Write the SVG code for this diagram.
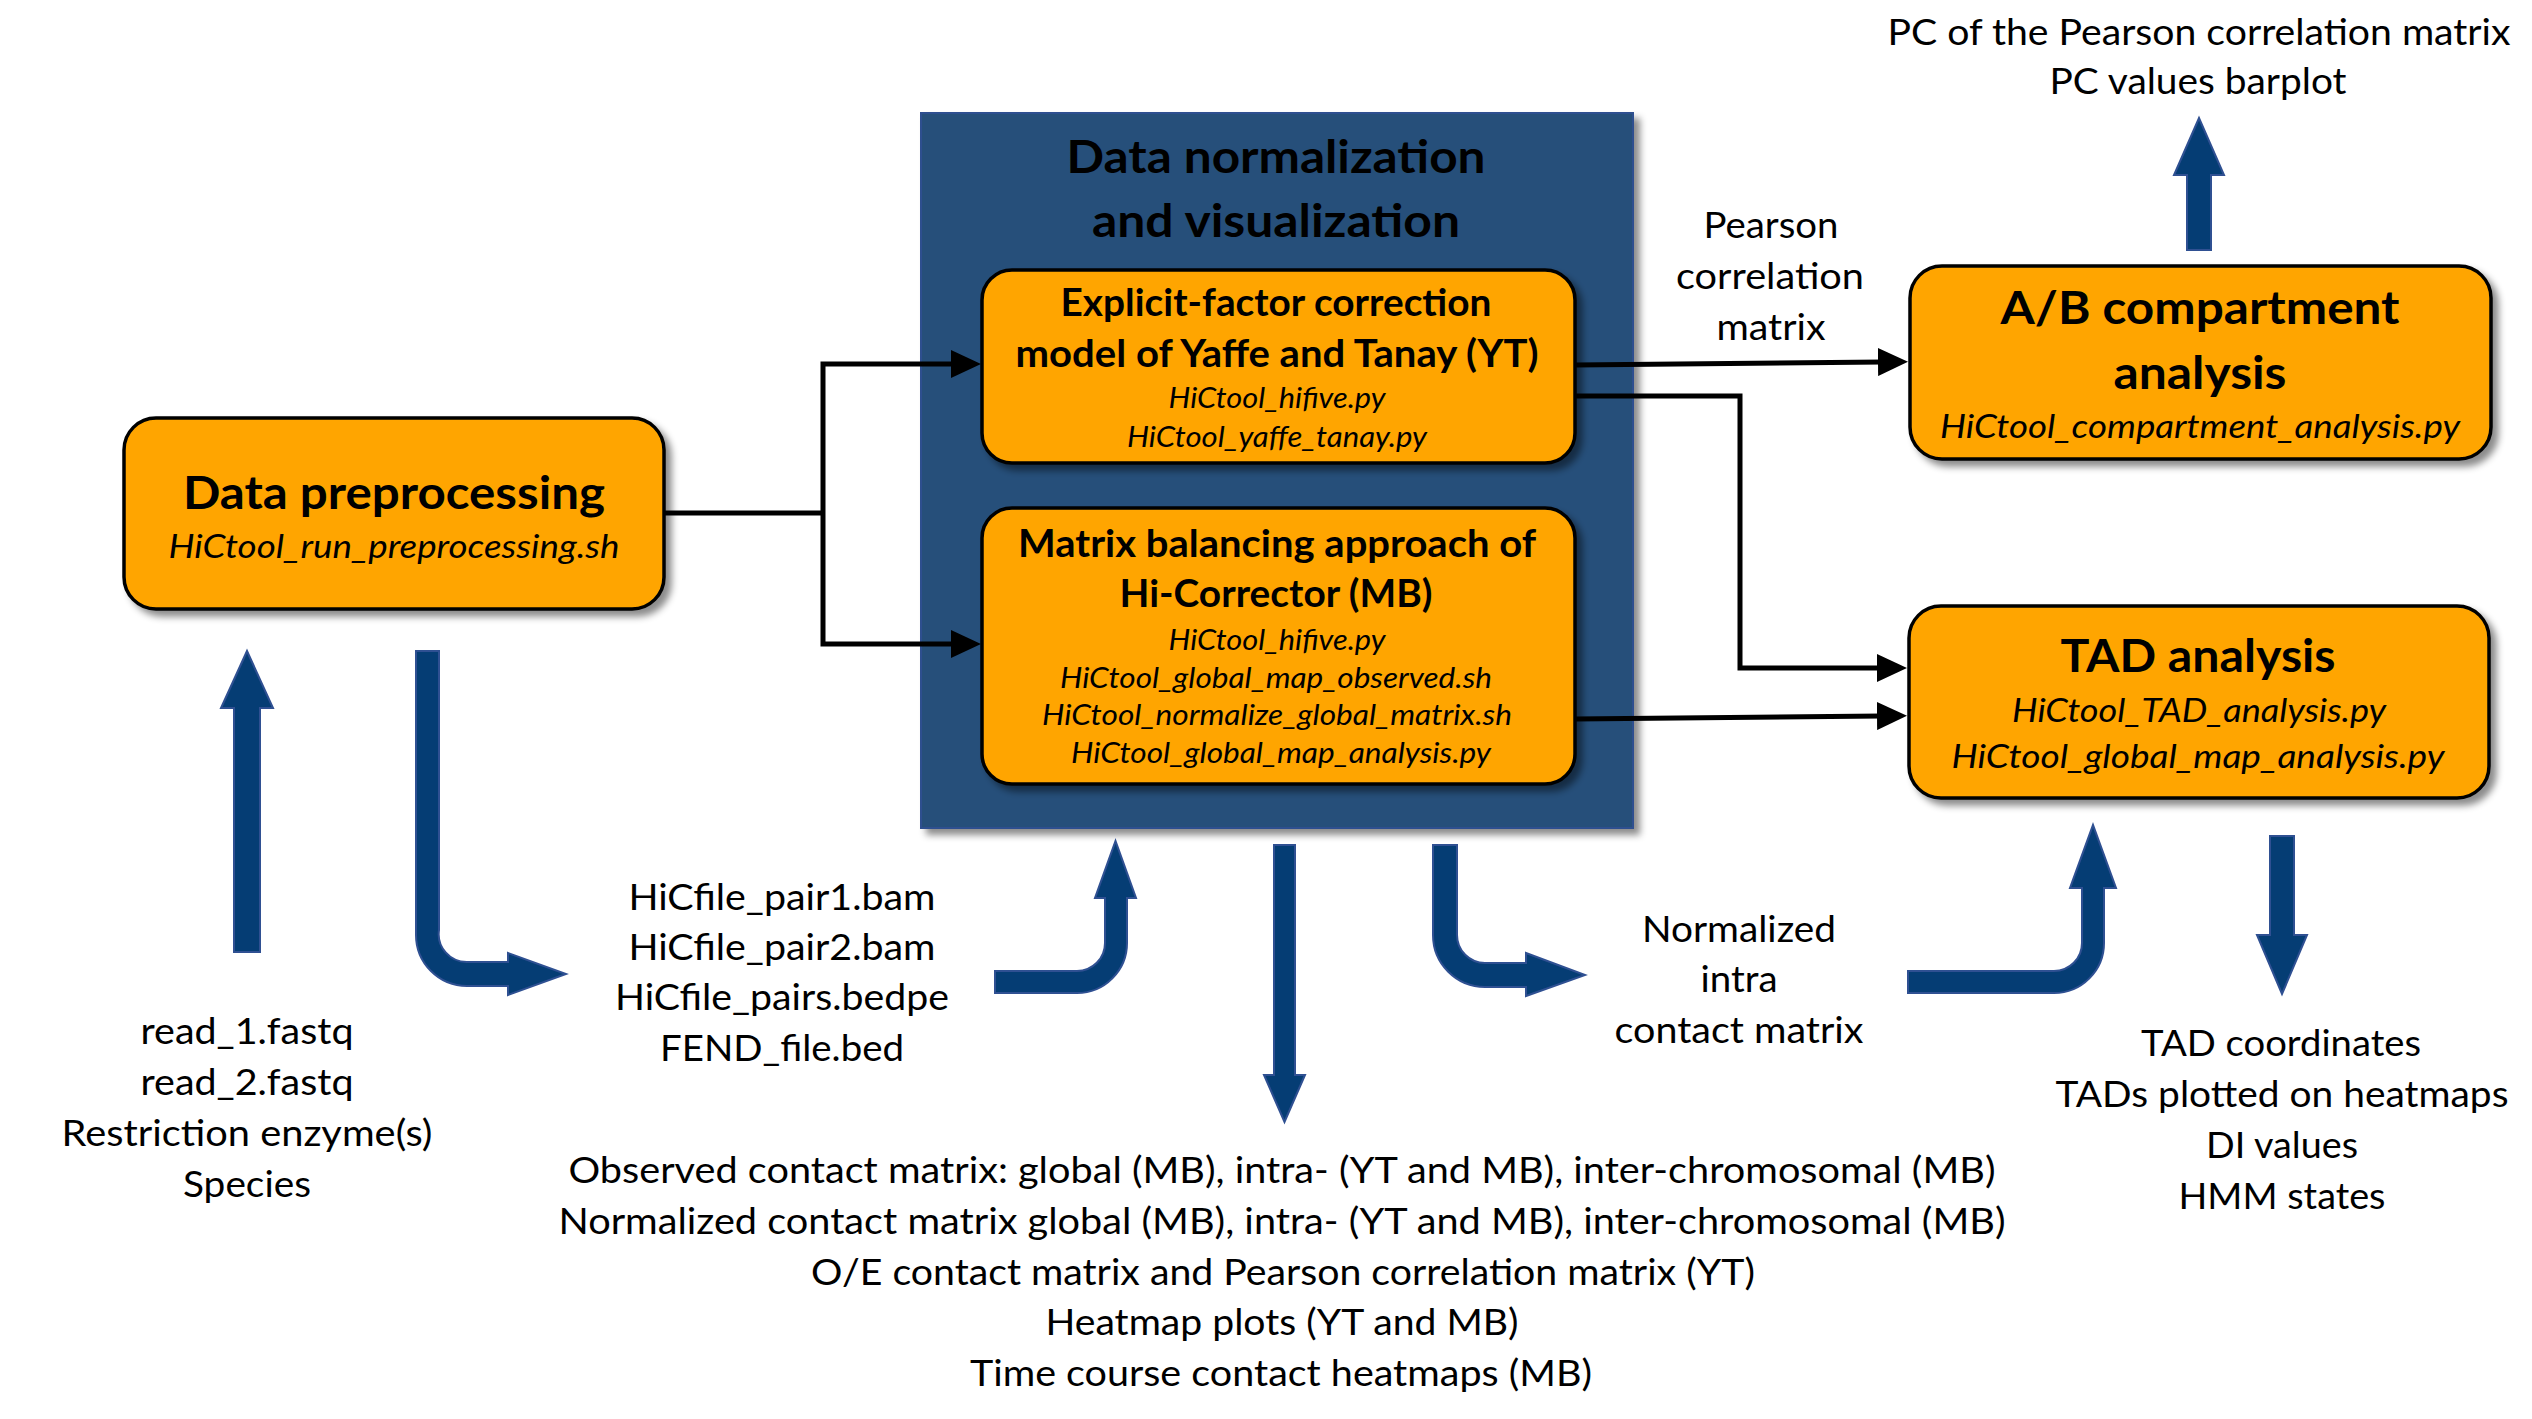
<svg xmlns="http://www.w3.org/2000/svg" width="2532" height="1419" viewBox="0 0 2532 1419">
<style>
.t{font-family:Lato,"Liberation Sans",sans-serif;fill:#000;text-anchor:middle}
.r{font-size:37px}
.b{font-weight:bold}
.i{font-style:italic}
.h1{font-size:46px;font-weight:bold}
.h2{font-size:45px;font-weight:bold}
.h3{font-size:38px;font-weight:bold}
.s1{font-size:28px;font-style:italic}
.s2{font-size:33px;font-style:italic}
.box{fill:#FFA500;stroke:#000;stroke-width:3.5;filter:url(#sh)}
.cont{fill:#25507A;stroke:#2F4F8F;stroke-width:2;filter:url(#sh)}
.conn{fill:none;stroke:#000;stroke-width:5}
.ba{fill:#053D74;stroke:#2F5092;stroke-width:2}
</style>
<defs>
<filter id="sh" x="-10%" y="-10%" width="125%" height="130%">
<feDropShadow dx="6" dy="6" stdDeviation="3.5" flood-color="#000" flood-opacity="0.45"/>
</filter>
<marker id="ah" viewBox="0 0 30 28" refX="5" refY="14" markerUnits="userSpaceOnUse" markerWidth="30" markerHeight="28" orient="auto">
<path d="M0,0 L30,14 L0,28 Z" fill="#000"/>
</marker>
</defs>
<rect width="2532" height="1419" fill="#fff"/>

<g id="container">
<rect class="cont" x="921" y="113" width="712" height="715"/>
<text class="t h1" x="1276" y="173" textLength="419" lengthAdjust="spacingAndGlyphs">Data normalization</text>
<text class="t h1" x="1276" y="237" textLength="368" lengthAdjust="spacingAndGlyphs">and visualization</text>
</g>

<g id="connectors">
<path class="conn" d="M662,513 H823"/>
<path class="conn" d="M823,511 V364 H956" marker-end="url(#ah)"/>
<path class="conn" d="M823,511 V644 H956" marker-end="url(#ah)"/>
<path class="conn" d="M1575,365 L1883,362" marker-end="url(#ah)"/>
<path class="conn" d="M1575,396 H1740 V668 H1882" marker-end="url(#ah)"/>
<path class="conn" d="M1575,719 L1882,716" marker-end="url(#ah)"/>
</g>

<g id="preprocessing">
<rect class="box" x="124" y="418" width="540" height="191" rx="32"/>
<text class="t h2" x="394" y="509" textLength="422" lengthAdjust="spacingAndGlyphs">Data preprocessing</text>
<text class="t s2" x="394" y="558" textLength="451" lengthAdjust="spacingAndGlyphs">HiCtool_run_preprocessing.sh</text>
</g>

<g id="yt">
<rect class="box" x="982" y="270" width="593" height="193" rx="30"/>
<text class="t h3" x="1276" y="316" textLength="431" lengthAdjust="spacingAndGlyphs">Explicit-factor correction</text>
<text class="t h3" x="1277" y="367" textLength="523" lengthAdjust="spacingAndGlyphs">model of Yaffe and Tanay (YT)</text>
<text class="t s1" x="1277" y="408" textLength="217" lengthAdjust="spacingAndGlyphs">HiCtool_hifive.py</text>
<text class="t s1" x="1277" y="447" textLength="300" lengthAdjust="spacingAndGlyphs">HiCtool_yaffe_tanay.py</text>
</g>

<g id="mb">
<rect class="box" x="982" y="508" width="593" height="276" rx="30"/>
<text class="t h3" x="1277" y="557" textLength="518" lengthAdjust="spacingAndGlyphs">Matrix balancing approach of</text>
<text class="t h3" x="1276" y="607" textLength="313" lengthAdjust="spacingAndGlyphs">Hi-Corrector (MB)</text>
<text class="t s1" x="1277" y="650" textLength="217" lengthAdjust="spacingAndGlyphs">HiCtool_hifive.py</text>
<text class="t s1" x="1276" y="688" textLength="432" lengthAdjust="spacingAndGlyphs">HiCtool_global_map_observed.sh</text>
<text class="t s1" x="1277" y="725" textLength="470" lengthAdjust="spacingAndGlyphs">HiCtool_normalize_global_matrix.sh</text>
<text class="t s1" x="1281" y="763" textLength="420" lengthAdjust="spacingAndGlyphs">HiCtool_global_map_analysis.py</text>
</g>

<g id="ab">
<rect class="box" x="1910" y="266" width="581" height="193" rx="32"/>
<text class="t h2" x="2200" y="324" textLength="399" lengthAdjust="spacingAndGlyphs">A/B compartment</text>
<text class="t h2" x="2200" y="389" textLength="173" lengthAdjust="spacingAndGlyphs">analysis</text>
<text class="t s2" x="2200" y="438" textLength="520" lengthAdjust="spacingAndGlyphs">HiCtool_compartment_analysis.py</text>
</g>

<g id="tad">
<rect class="box" x="1909" y="606" width="580" height="192" rx="32"/>
<text class="t h2" x="2198" y="672" textLength="275" lengthAdjust="spacingAndGlyphs">TAD analysis</text>
<text class="t s2" x="2199" y="722" textLength="374" lengthAdjust="spacingAndGlyphs">HiCtool_TAD_analysis.py</text>
<text class="t s2" x="2198" y="768" textLength="493" lengthAdjust="spacingAndGlyphs">HiCtool_global_map_analysis.py</text>
</g>

<g id="flow-arrows">
<path class="ba" d="M234,952 V708 H221 L247,651 L273,708 H260 V952 Z"/>
<path class="ba" d="M416,651 H439 V930 A28,28 0 0 0 467,962 H508 V953 L566,974 L508,995 V986 H467 A51,51 0 0 1 416,935 Z"/>
<path class="ba" d="M995,971 H1077 A28,28 0 0 0 1105,943 V898 H1095 L1115.5,841 L1136,898 H1127 V943 A50,50 0 0 1 1077,993 H995 Z"/>
<path class="ba" d="M1274,845 H1295 V1075 H1305 L1284.5,1122 L1264,1075 H1274 Z"/>
<path class="ba" d="M1433,845 H1457 V935 A28,28 0 0 0 1485,963 H1526 V953 L1585,975 L1526,996 V987 H1485 A52,52 0 0 1 1433,935 Z"/>
<path class="ba" d="M1908,971 H2054 A28,28 0 0 0 2082,943 V888 H2070 L2093,825 L2116,888 H2104 V943 A50,50 0 0 1 2054,993 H1908 Z"/>
<path class="ba" d="M2270,836 H2294 V935 H2307 L2282,994 L2257,935 H2270 Z"/>
<path class="ba" d="M2187,250 V175 H2174 L2199,118 L2224,175 H2211 V250 Z"/>
</g>

<g id="labels">
<text class="t r" x="2199" y="45" textLength="623" lengthAdjust="spacingAndGlyphs">PC of the Pearson correlation matrix</text>
<text class="t r" x="2198" y="94" textLength="297" lengthAdjust="spacingAndGlyphs">PC values barplot</text>
<text class="t r" x="1771" y="238" textLength="135" lengthAdjust="spacingAndGlyphs">Pearson</text>
<text class="t r" x="1770" y="289" textLength="188" lengthAdjust="spacingAndGlyphs">correlation</text>
<text class="t r" x="1771" y="340" textLength="109" lengthAdjust="spacingAndGlyphs">matrix</text>

<text class="t r" x="247" y="1044" textLength="213" lengthAdjust="spacingAndGlyphs">read_1.fastq</text>
<text class="t r" x="247" y="1095" textLength="213" lengthAdjust="spacingAndGlyphs">read_2.fastq</text>
<text class="t r" x="247" y="1146" textLength="371" lengthAdjust="spacingAndGlyphs">Restriction enzyme(s)</text>
<text class="t r" x="247" y="1197" textLength="128" lengthAdjust="spacingAndGlyphs">Species</text>

<text class="t r" x="782" y="910" textLength="307" lengthAdjust="spacingAndGlyphs">HiCfile_pair1.bam</text>
<text class="t r" x="782" y="960" textLength="307" lengthAdjust="spacingAndGlyphs">HiCfile_pair2.bam</text>
<text class="t r" x="782" y="1010" textLength="334" lengthAdjust="spacingAndGlyphs">HiCfile_pairs.bedpe</text>
<text class="t r" x="782" y="1061" textLength="244" lengthAdjust="spacingAndGlyphs">FEND_file.bed</text>

<text class="t r" x="1739" y="942" textLength="194" lengthAdjust="spacingAndGlyphs">Normalized</text>
<text class="t r" x="1739" y="992" textLength="77" lengthAdjust="spacingAndGlyphs">intra</text>
<text class="t r" x="1739" y="1043" textLength="249" lengthAdjust="spacingAndGlyphs">contact matrix</text>

<text class="t r" x="1282" y="1183" textLength="1427" lengthAdjust="spacingAndGlyphs">Observed contact matrix: global (MB), intra- (YT and MB), inter-chromosomal (MB)</text>
<text class="t r" x="1282" y="1234" textLength="1447" lengthAdjust="spacingAndGlyphs">Normalized contact matrix global (MB), intra- (YT and MB), inter-chromosomal (MB)</text>
<text class="t r" x="1283" y="1285" textLength="944" lengthAdjust="spacingAndGlyphs">O/E contact matrix and Pearson correlation matrix (YT)</text>
<text class="t r" x="1282" y="1335" textLength="473" lengthAdjust="spacingAndGlyphs">Heatmap plots (YT and MB)</text>
<text class="t r" x="1281" y="1386" textLength="622" lengthAdjust="spacingAndGlyphs">Time course contact heatmaps (MB)</text>

<text class="t r" x="2281" y="1056" textLength="280" lengthAdjust="spacingAndGlyphs">TAD coordinates</text>
<text class="t r" x="2282" y="1107" textLength="453" lengthAdjust="spacingAndGlyphs">TADs plotted on heatmaps</text>
<text class="t r" x="2282" y="1158" textLength="152" lengthAdjust="spacingAndGlyphs">DI values</text>
<text class="t r" x="2282" y="1209" textLength="207" lengthAdjust="spacingAndGlyphs">HMM states</text>
</g>
</svg>
